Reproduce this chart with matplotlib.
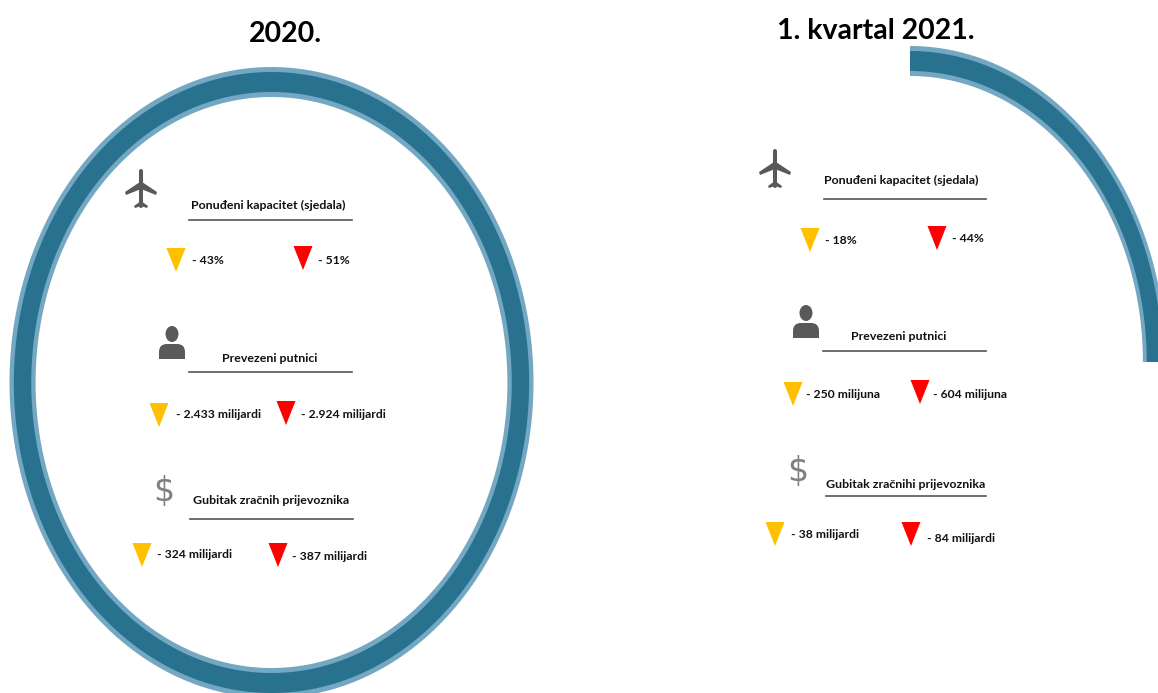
import numpy as np
import matplotlib
matplotlib.use("Agg")
import matplotlib.pyplot as plt
from matplotlib.patches import Polygon, Ellipse, FancyBboxPatch

panel_titles = ["2020.", "1. kvartal 2021."]
heads_2020 = ["Ponuđeni kapacitet (sjedala)", "Prevezeni putnici", "Gubitak zračnih prijevoznika"]
heads_2021 = ["Ponuđeni kapacitet (sjedala)", "Prevezeni putnici", "Gubitak zračnihi prijevoznika"]
yellow_2020 = ["- 43%", "- 2.433 milijardi", "- 324 milijardi"]
red_2020 = ["- 51%", "- 2.924 milijardi", "- 387 milijardi"]
yellow_2021 = ["- 18%", "- 250 milijuna", "- 38 milijardi"]
red_2021 = ["- 44%", "- 604 milijuna", "- 84 milijardi"]

plt.rcParams["font.family"] = ["Lato", "DejaVu Sans"]

DARK, LIGHT, ICON, TXT = "#29728F", "#74A7C2", "#595959", "#111111"
YEL, RED = "#FFC000", "#FF0000"

fig = plt.figure(figsize=(11.58, 6.93), dpi=100)
ax = fig.add_axes([0, 0, 1, 1])
ax.set_xlim(0, 1158); ax.set_ylim(693, 0); ax.axis("off")


def ring(cx, cy, rx, ry, t0, t1, tx, ty):
    t = np.radians(np.linspace(t0, t1, 400))
    for f, col in ((0, LIGHT), (5, DARK)):
        ox, oy = cx + (rx - f * tx) * np.cos(t), cy - (ry - f * ty) * np.sin(t)
        ix, iy = cx + (rx - (30 - f) * tx) * np.cos(t), cy - (ry - (30 - f) * ty) * np.sin(t)
        ax.fill(np.r_[ox, ix[::-1]], np.r_[oy, iy[::-1]], color=col, lw=0)


def plane(x, y):
    ax.plot([x, x], [y - 17, y + 18], color=ICON, lw=2.9, solid_capstyle="round")
    ax.add_patch(Polygon([[x - 16, y + 4], [x - 1, y - 6], [x + 1, y - 6], [x + 16, y + 4],
                          [x + 15, y + 7], [x, y + 1], [x - 15, y + 7]], fc=ICON, lw=0))
    ax.add_patch(Polygon([[x - 7, y + 18], [x, y + 13], [x + 7, y + 18], [x + 6, y + 20],
                          [x, y + 18], [x - 6, y + 20]], fc=ICON, lw=0))


def person(x, y):
    ax.add_patch(Ellipse((x, y - 9), 13, 16, fc=ICON, lw=0))
    ax.add_patch(FancyBboxPatch((x - 13, y + 1), 26, 15, boxstyle="round,pad=0,rounding_size=8", fc=ICON, lw=0))
    ax.add_patch(Polygon([[x - 13, y + 9], [x + 13, y + 9], [x + 13, y + 16], [x - 13, y + 16]], fc=ICON, lw=0))


def tri(x, top, col):
    ax.add_patch(Polygon([[x - 9.5, top], [x + 9.5, top], [x, top + 24]], fc=col, lw=0))


def panel(title, tx, ty, heads, yel, red, hx, hy, lines, yt, rt, yl, rl, pl, pe, do):
    ax.text(tx, ty, title, fontsize=20.5, fontweight="bold", ha="center", va="center", color="black")
    for i in range(3):
        ax.text(hx[i], hy[i], heads[i], fontsize=8.9, fontweight="bold", ha="center", va="center", color=TXT)
        ax.plot(lines[i][:2], [lines[i][2]] * 2, color="#555555", lw=1.2)
        tri(yt[i][0], yt[i][1], YEL)
        tri(rt[i][0], rt[i][1], RED)
        ax.text(yl[i][0], yl[i][1], yel[i], fontsize=8.7, fontweight="bold", va="center", color=TXT)
        ax.text(rl[i][0], rl[i][1], red[i], fontsize=8.7, fontweight="bold", va="center", color=TXT)
    plane(*pl)
    person(*pe)
    ax.text(do[0], do[1], "$", fontsize=24, family="DejaVu Sans",
            ha="center", va="center", color="#808080")


ring(271.5, 382.5, 262, 315.5, 0, 360, 0.87, 1)
ring(910, 362, 256, 316, 0, 90, 0.77, 1)

panel(panel_titles[0], 285, 34, heads_2020, yellow_2020, red_2020,
      [268, 270, 271], [205, 359, 501],
      [(189, 352, 220), (189, 352, 372), (190, 353, 519)],
      [(176, 248), (159, 403), (142, 543)], [(303, 246), (286, 401), (278, 543)],
      [(192, 260), (176, 415), (157, 555)], [(318, 260), (301, 415), (292, 557)],
      (141, 188), (172, 343), (164, 492))
panel(panel_titles[1], 876, 31, heads_2021, yellow_2021, red_2021,
      [901, 899, 906], [180, 337, 485],
      [(824, 986, 199), (823, 986, 351), (826, 986, 496)],
      [(810, 228), (793, 382), (775, 522)], [(937, 226), (920, 380), (911, 522)],
      [(825, 241), (806, 395), (791, 534)], [(952, 239), (933, 395), (927, 538)],
      (775, 168), (806, 322), (798, 472))

fig.savefig("out.png", dpi=100, facecolor="white")
